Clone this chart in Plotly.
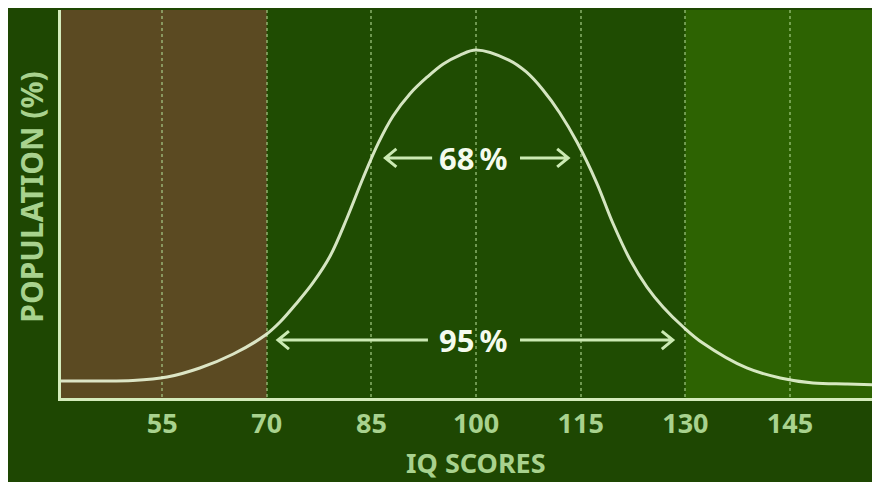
import plotly.graph_objects as go

# ---- data ----
iq = [40.5, 46.1, 50.8, 55.7, 60.4, 65.2, 69.8, 71.9, 74.3, 76.6, 79.1, 81.5,
      83.8, 86.0, 88.1, 90.5, 93.0, 95.3, 97.7, 100.0, 104.7, 107.2, 109.6, 112.0,
      114.5, 117.3, 119.6, 122.1, 124.5, 126.8, 129.7, 132.5, 138.8, 143.6, 148.3,
      153.2, 157.9]
population = [0.131, 0.131, 0.135, 0.162, 0.232, 0.340, 0.487, 0.588, 0.735, 0.890,
              1.100, 1.392, 1.701, 1.972, 2.180, 2.351, 2.482, 2.583, 2.652, 2.691,
              2.613, 2.521, 2.382, 2.204, 1.975, 1.662, 1.353, 1.067, 0.858, 0.704,
              0.549, 0.425, 0.232, 0.155, 0.116, 0.108, 0.101]

tick_vals = [55, 70, 85, 100, 115, 130, 145]
tick_text = ["55", "70", "85", "100", "115", "130", "145"]

x_range = [40.5, 157.9]
y_range = [0, 3.0]

low_band = [40.5, 70]     # brown zone
high_band = [130, 157.9]  # light green zone

labels = ["68\u2009%", "95\u2009%"]
label_x = [99.7, 99.7]
label_y = [1.856, 0.448]
arrow_left = [[87.0, 93.7], [71.6, 93.1]]    # [tip, end]
arrow_right = [[113.2, 106.3], [128.2, 106.3]]

# ---- styling ----
PAPER = "#1e4702"
PLOT = "#1f4c02"
BROWN = "#5b4a22"
LIGHTGREEN = "#2d6302"
AXIS = "#d4ecbc"
TICK = "#a8d28e"
ARROW = "#cbeab3"
FONT = "Noto Sans, Open Sans, sans-serif"

fig = go.Figure()
fig.add_trace(go.Scatter(
    x=iq, y=population, mode="lines", line_shape="spline",
    line=dict(color="rgba(238,250,220,0.88)", width=3),
    hoverinfo="skip", showlegend=False))

shapes = [
    dict(type="rect", xref="x", yref="paper", x0=low_band[0], x1=low_band[1],
         y0=0, y1=1, fillcolor=BROWN, line_width=0, layer="below"),
    dict(type="rect", xref="x", yref="paper", x0=high_band[0], x1=high_band[1],
         y0=0, y1=1, fillcolor=LIGHTGREEN, line_width=0, layer="below"),
]

# chevron size in data units (px converted via axis scale)
px_per_x = 819 / (x_range[1] - x_range[0])
px_per_y = 388 / (y_range[1] - y_range[0])
hx = 11 / px_per_x
hy = 9 / px_per_y

for (lt, le), (rt, re_), yv in zip(arrow_left, arrow_right, label_y):
    pl = (f"M {lt+hx},{yv+hy} L {lt},{yv} L {lt+hx},{yv-hy} "
          f"M {lt},{yv} L {le},{yv}")
    pr = (f"M {rt-hx},{yv+hy} L {rt},{yv} L {rt-hx},{yv-hy} "
          f"M {rt},{yv} L {re_},{yv}")
    for p in (pl, pr):
        shapes.append(dict(type="path", xref="x", yref="y", path=p,
                           line=dict(color=ARROW, width=3), layer="above"))

annotations = []
for t, xv, yv in zip(labels, label_x, label_y):
    annotations.append(dict(x=xv, y=yv, xref="x", yref="y", text=f"<b>{t}</b>",
                            showarrow=False, font=dict(family=FONT, size=31, color="#f4fbee"),
                            xanchor="center", yanchor="middle"))

annotations.append(dict(x=0.507, y=-0.165, xref="paper", yref="paper",
                        text="<b>IQ SCORES</b>", showarrow=False,
                        font=dict(family=FONT, size=27, color=TICK),
                        xanchor="center", yanchor="middle"))
annotations.append(dict(x=-0.037, y=0.518, xref="paper", yref="paper",
                        text="<b>POPULATION (%)</b>", showarrow=False, textangle=-90,
                        font=dict(family=FONT, size=30, color=TICK),
                        xanchor="center", yanchor="middle"))

# The page body adds an 8px offset, so the figure is sized 8px smaller.
fig.update_layout(
    width=872, height=474,
    margin=dict(l=53, r=0, t=2, b=84),
    paper_bgcolor=PAPER, plot_bgcolor=PLOT,
    shapes=shapes, annotations=annotations,
    showlegend=False,
    xaxis=dict(range=x_range, tickvals=tick_vals, ticktext=tick_text,
               showgrid=True, griddash="dot", gridcolor="rgba(175,215,145,0.55)",
               gridwidth=1.5, zeroline=False, showline=True, linecolor=AXIS,
               linewidth=3, ticks="", fixedrange=True,
               tickfont=dict(family=FONT, size=27, color=TICK, weight="bold")),
    yaxis=dict(range=y_range, showgrid=False, zeroline=False, showline=True,
               linecolor=AXIS, linewidth=3, showticklabels=False, ticks="",
               fixedrange=True),
)

fig.write_html("out.html")
